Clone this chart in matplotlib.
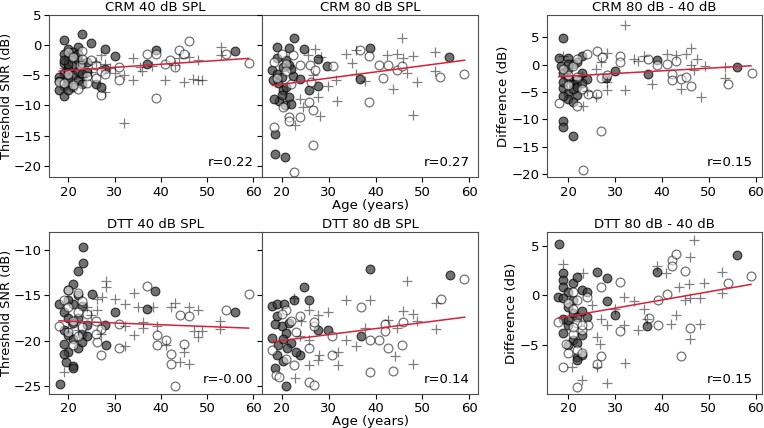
import numpy as np
import matplotlib
matplotlib.use("Agg")
import matplotlib.pyplot as plt

# -----------------------------
# Data (age in years, value in dB)
# filled = dark circles, open = open circles, plus = crosses
# -----------------------------
CRM40_FILLED = [(19, 0.8), (23, 1.9), (25, 0.4), (22, -0.3), (20, -0.6), (19, -1.5), (21, -1.2),
                (20, -2.2), (19, -3), (21, -3.5), (22, -2.5), (23, -3), (20, -4), (19, -4.6),
                (18, -5.3), (21, -5), (22, -5.8), (20, -6.2), (19, -6.8), (18, -7.4), (21, -7),
                (19, -8.5), (20, -5.5), (22, -4.3), (24, -4.5), (23, -6.5), (26, -6.4), (27, -7),
                (28, -3.9), (28, -0.7), (30, -1.8), (37, -3.2), (39, -0.8), (56, -0.9), (20, -3.2),
                (21, -1.8), (19, -2.5), (22, -1.5), (24, -2.8), (20, -7.5), (18, -6.0), (23, -4.8)]
CRM40_OPEN = [(46, 0.7), (44, -0.8), (37, -1.5), (39, -1.4), (45, -1.4), (31, -3.6), (31, -5.7),
              (39, -8.7), (41, -3.2), (42, -2.4), (43, -3.6), (54, -1.4), (59, -2.9), (27, -8.2),
              (26, -5.4), (24, -6.3), (22, -7.2), (22.5, -3.3), (18, -6.1), (20, -1.2), (21, -2.0),
              (19, -6.3), (20, -4.8), (23, -1.0), (25, -2.5), (26, -3.3), (27, -4.3), (28, -4.8),
              (21, -6.6), (24, -5.2), (23, -2.3)]
CRM40_PLUS = [(27, -1.7), (26, -2.8), (28, -3.1), (34, -2.2), (35.5, -3.6), (36, -4.3), (34, -5.8),
              (32, -5.0), (32, -12.9), (41, -5.7), (43, -3.3), (44, -2.2), (45, -6.1), (46, -1.9),
              (47, -5.6), (48, -5.7), (49, -5.8), (48, -2.5), (53, -0.3), (53, -1.7), (28, -7.8),
              (25, -4.4), (23, -5.3), (30, -4.6), (29, -3.8), (38, -3.4), (19, -3.8), (22, -2.6)]

CRM80_FILLED = [(22.7, 1.1), (19, -0.3), (21.6, -0.4), (24.7, -0.6), (27.7, -2.3), (29.7, -3.4),
                (38.8, -0.4), (36.6, -5.6), (27.7, -6.8), (25.8, -7.5), (55.7, -1.9), (18.6, -14.8),
                (18.6, -18), (20.7, -18.6), (18, -4.2), (19, -4.8), (20.3, -3.6), (21.6, -3.3),
                (19.2, -6.3), (20.3, -7.5), (21.6, -8.6), (19.5, -9.2), (18.4, -8.9), (20.6, -10),
                (22, -9.7), (21, -6.9), (22.4, -5.2), (23.8, -5.6), (18.2, -5.8), (20, -5.3),
                (19, -2.2), (21, -2.5), (22, -3.9), (20, -8.2)]
CRM80_OPEN = [(18.4, -2.8), (20, -1.4), (21, -3.1), (22.4, -1.7), (23.8, -3.3), (26, -3.3), (27, -4.2),
              (25.8, -9.4), (26.6, -10.8), (23.8, -11.9), (21.6, -11.9), (21.6, -12.6), (18.3, -13.5),
              (26.6, -16.6), (22.7, -21.1), (36.6, -0.8), (38.6, -1.8), (38.6, -9.4), (40.7, -3.3),
              (41.6, -5.4), (42.6, -3.3), (44.5, -4.2), (45.6, -3.5), (53.8, -5.3), (58.8, -4.8),
              (30.9, -3.4), (26.3, -6.1), (20.2, -10.3), (19, -5.5), (21, -4.3), (22, -6.5)]
CRM80_PLUS = [(27, -0.6), (25.6, -1.7), (28.4, -1.9), (26.6, -5), (29.9, -6.7), (31.6, -5.8),
              (31.8, -9.3), (23.8, -9), (24.5, -10.3), (27.7, -8.6), (33.8, -1.5), (34.9, -2.9),
              (35.9, -0.8), (35.9, -4.8), (37.7, -5.9), (42.4, -1.7), (43.8, -7.2), (44.5, -1.4),
              (45.7, 1.1), (45.8, -2.2), (46.6, -4.7), (47.9, -1.8), (47.9, -11.6), (48.8, -6.1),
              (52.7, -1.2), (52.7, -4.3), (22.9, -13.3), (28.1, -11.7)]

CRMDIFF_FILLED = [(19, 4.8), (19, -10.3), (19, -11.4), (21, -13.1), (56, -0.5), (37, -1.7), (39, 0.8),
                  (30, -1.1), (28, -2.4), (18, 1.2), (18.5, -0.2), (19, -1.5), (20, -2.5), (21, -3.5),
                  (19, -4.3), (20, -5.2), (22, -5.5), (20, -6.3), (19, -5.8), (21, -6.8), (22, -2.8),
                  (23, -1.5), (22, 0.5), (20, 1.3), (21, 0.2), (23, 1.5), (24, -2.7), (20, -0.8),
                  (19, -3.2), (21, -4.5), (22, -4), (23, -3.3), (20, 0.2)]
CRMDIFF_OPEN = [(18, -7), (22, -7.6), (27.1, -12.2), (23.1, -19.3), (26.2, 2.5), (24, 1.9), (27.3, 1.4),
                (31.1, 1.6), (31.1, 0.5), (37, 1), (39, -0.1), (41.2, 0.2), (43.1, 0.7), (42.1, -1.7),
                (42.1, -2.8), (44.1, -2.7), (45.1, -2.3), (46.2, -3.9), (54.2, -3.5), (59.2, -1.6),
                (24.3, -5.3), (26.2, -5.3), (27.1, -2.4), (28.4, -1.9), (20, -1.8), (21, -0.3),
                (22, -2.2), (20, -3.8), (19, -0.8), (23, -4.5), (22, 1)]
CRMDIFF_PLUS = [(32.1, 7.2), (32.1, -4.7), (28.4, -4.7), (25.9, -6), (23.1, -7.6), (28.4, 2.2),
                (28.4, -3.2), (34, 1.0), (35, 0.6), (36.1, 1.6), (37.9, -3.5), (41.1, 2.0), (43.1, 1.8),
                (45.1, 2.0), (46.2, 3.0), (46.2, 0.0), (46.9, -0.9), (44.1, -4.4), (47.6, 1.0),
                (49.1, -0.3), (48.4, -6), (53.4, -0.5), (53.4, -2.4), (19, 1.5), (23, -2), (24, -4.8),
                (21, -2.8), (26, -0.8), (27, 0.5)]

DTT40_FILLED = [(18.1, -24.7), (23.1, -9.7), (23.1, -11.5), (22.2, -12.3), (21.1, -13.8), (25.2, -14.9),
                (38.8, -14.5), (37.1, -16.5), (30.2, -16.8), (56, -16.8), (28.2, -20.4), (18, -15.9),
                (19, -16.8), (20, -17.5), (19, -18.8), (20, -19.3), (21, -19.8), (19, -20.3), (20, -21.2),
                (19.5, -22.3), (21, -22.8), (21, -23), (22, -20.8), (23, -19.2), (22, -17.5), (23, -16.2),
                (24, -18.3), (24, -19.5), (21, -16), (20, -15.5), (22, -15), (28, -18.3), (20, -14.4),
                (19, -21.4), (23, -20.1), (21, -18)]
DTT40_OPEN = [(20, -14.4), (22.2, -14.8), (37.1, -14), (59, -14.9), (54, -16.6), (44.2, -17.2),
              (46.2, -17.3), (31, -18.1), (39.2, -19.4), (39.2, -20.4), (41.2, -19.9), (42.2, -21.4),
              (42.2, -22.5), (45, -20.3), (43, -25), (31, -20.8), (27.1, -21.6), (26.1, -20.1),
              (27.1, -18.7), (18, -18.4), (19, -15.5), (20, -16.3), (21, -17.8), (22, -16.8),
              (23, -18.5), (24, -17), (20, -19), (21, -20.4), (22, -19.5), (23, -15.6), (26, -17.8),
              (26, -19.2)]
DTT40_PLUS = [(19, -23.4), (28.2, -13.4), (28.2, -14.1), (30.2, -15.4), (32.2, -15.9), (34.2, -14.8),
              (35.1, -16.3), (26.1, -15.4), (27.2, -15.2), (26.3, -16.6), (36.2, -17.9), (36.2, -18.6),
              (34.2, -19.3), (32.2, -18.4), (32.2, -20.6), (39.2, -18.4), (38.3, -16.3), (41.2, -20.5),
              (42.2, -16.3), (43.1, -15.8), (44.1, -22.3), (45, -21.2), (46.2, -22.5), (46.2, -16.3),
              (48.1, -16.6), (47.1, -18.9), (48.1, -19.6), (49, -18.9), (52.9, -17.8), (52.9, -18.7),
              (20, -18.6), (22, -18.8), (24, -16.3), (25, -17.2), (27, -19.2)]

DTT80_FILLED = [(38.8, -12.1), (55.8, -12.8), (24.7, -14.1), (25.8, -15.5), (22.7, -15.5), (18, -16.2),
                (19, -16.0), (20.5, -16.0), (29.9, -18.8), (27.7, -18.8), (36.8, -19.5), (18, -19.7),
                (20.8, -24.9), (23.8, -21.5), (18.6, -23), (19, -17.3), (20, -18.4), (21, -19.1),
                (21.6, -18.0), (19.2, -20.5), (20.2, -19.8), (22, -20.2), (19, -21.5), (20.2, -22.2),
                (21.2, -20.8), (23, -21.2), (18.5, -18.2)]
DTT80_OPEN = [(58.9, -13.2), (53.9, -15.4), (36.9, -16.3), (45.8, -17.9), (42, -18.2), (42, -18.9),
              (38.8, -19.9), (40.8, -19.9), (42.7, -20.8), (45.7, -20.4), (43.8, -23.3), (38.8, -23.4),
              (30.8, -19.5), (30.8, -21.6), (25.8, -24.5), (26.9, -24.8), (26.9, -18.4), (26.9, -17.9),
              (25.9, -20.8), (23.8, -17.3), (21, -16.6), (18.8, -23.7), (22.7, -22.6), (18, -21),
              (20, -17.0), (22, -17.8), (23, -19.0), (21, -22.0), (19.5, -24.0)]
DTT80_PLUS = [(46.8, -13.4), (52.9, -15.8), (52.9, -18.7), (47.9, -17), (45.8, -16.7), (48.8, -17.8),
              (44.5, -18.6), (42.7, -17.7), (38.8, -15.5), (33.8, -15.5), (37.7, -18.6), (33.8, -19.9),
              (35.8, -20.6), (44.1, -21.7), (47.9, -22.5), (31.9, -21.2), (31.9, -22.6), (27.7, -22.1),
              (27.9, -21.5), (25.8, -22.6), (25.9, -16.6), (25.8, -19.9), (27.7, -17.2), (29.8, -16.8),
              (23.8, -19.5), (22.7, -15.3), (22.9, -24.1), (24, -17.8)]

DTTDIFF_FILLED = [(18.1, 5.2), (56.1, 4.1), (38.9, 2.4), (26.1, 2.4), (28.2, 1.7), (28.2, -0.6),
                  (30.1, -2), (36.9, -3.1), (17.9, -0.2), (19, 2.2), (19, 1.5), (19, 0.8), (20, 0.3),
                  (19, -0.3), (21, 1.2), (22, 1.8), (20, -1.2), (21, -1.8), (22, -2.2), (19, -2.4),
                  (20, -3), (19, -3.8), (21, -4.5), (22, -4.8), (20, -5), (22, -6.2), (23, -6),
                  (22, -6.5), (23, -4), (24, -2.2), (23, 0.5), (24, 0.3), (21, -0.5), (20, -2.5),
                  (23, -1.6)]
DTTDIFF_OPEN = [(19, -7.2), (22, -9.3), (27.1, -6.1), (26.1, -6.9), (27.1, 0.8), (31.1, 1.3),
                (31.1, -3.6), (37.3, -2.3), (39.2, -3), (39.2, -0.5), (41.2, 0.1), (42.1, 3.6),
                (42.1, 3), (43.1, 4.2), (45, 2.5), (46.1, -3.3), (44.1, -6.1), (54.1, 1.2), (59.1, 1.9),
                (17.9, -2.7), (21.1, -3.9), (19.6, -4.9), (24.3, -3), (20, -0.8), (21, -1.4),
                (22, -2.8), (23, -3.5), (20, -5.8), (22, -5.5), (23, -5.8), (21, 0.3), (24, -0.2),
                (22, -0.5), (23, -3.0), (21, -3.2)]
DTTDIFF_PLUS = [(46.9, 5.6), (46.1, 3.9), (40.9, 2.2), (38.9, 3), (43.6, 0.8), (45.7, 1.1), (48.9, 1.2),
                (52.9, 2.3), (52.9, 0.2), (45, -0.5), (46.1, -0.3), (48.2, -0.3), (48.2, -2.9),
                (46.1, -4.4), (42, -2.9), (43, -2), (36.1, -1.4), (36.9, -2.4), (35, -3.5), (34.1, -0.6),
                (31.9, -0.2), (31.9, -3), (32.1, -6.8), (30, -1.4), (28.2, -8.9), (23, -8.6),
                (20.9, -7.2), (26.1, -7.2), (26.1, -4.2), (26.9, -4.9), (27.1, -2.4), (28.2, -3),
                (19, 3.2), (23.1, 2.2), (25, -1)]

# regression line values at the first and last age
FIT_AGES = [18, 59]
FITS = {"crm40": (-4.3, -2.2), "crm80": (-6.7, -2.5), "crmdiff": (-2.2, -0.2),
        "dtt40": (-17.8, -18.6), "dtt80": (-20.1, -17.4), "dttdiff": (-2.3, 1.1)}
R_VALUES = {"crm40": "0.22", "crm80": "0.27", "crmdiff": "0.15",
            "dtt40": "-0.00", "dtt80": "0.14", "dttdiff": "0.15"}
TITLES = {"crm40": "CRM 40 dB SPL", "crm80": "CRM 80 dB SPL", "crmdiff": "CRM 80 dB - 40 dB",
          "dtt40": "DTT 40 dB SPL", "dtt80": "DTT 80 dB SPL", "dttdiff": "DTT 80 dB - 40 dB"}

plt.rcParams["font.size"] = 9.5
plt.rcParams["xtick.labelsize"] = 9.5
plt.rcParams["ytick.labelsize"] = 9.5
plt.rcParams["axes.edgecolor"] = "0.3"
plt.rcParams["xtick.major.pad"] = 2.5
plt.rcParams["ytick.major.pad"] = 2.0


def draw_panel(ax, key, filled, opened, plus):
    f = np.array(filled)
    o = np.array(opened)
    p = np.array(plus)
    ax.scatter(f[:, 0], f[:, 1], s=40, facecolor="#3a3a3a", edgecolor="k", alpha=0.72, lw=0.8)
    ax.scatter(o[:, 0], o[:, 1], s=40, facecolor="white", edgecolor="k", alpha=0.55, lw=0.9)
    ax.scatter(p[:, 0], p[:, 1], s=55, marker="+", color="k", alpha=0.5, lw=0.9)
    ax.plot(FIT_AGES, FITS[key], color="#d8203a", lw=1.1)
    ax.set_title(TITLES[key], fontsize=9.5, pad=3)
    ax.text(0.96, 0.05, "r=" + R_VALUES[key], transform=ax.transAxes, ha="right", va="bottom")
    ax.set_xticks([20, 30, 40, 50, 60])


fig = plt.figure(figsize=(7.64, 4.28), dpi=100)

ax1 = fig.add_axes([0.064, 0.586, 0.279, 0.379])
ax2 = fig.add_axes([0.343, 0.586, 0.283, 0.379], sharey=ax1)
ax3 = fig.add_axes([0.716, 0.586, 0.281, 0.379])
ax4 = fig.add_axes([0.064, 0.080, 0.279, 0.377])
ax5 = fig.add_axes([0.343, 0.080, 0.283, 0.377], sharey=ax4)
ax6 = fig.add_axes([0.716, 0.080, 0.281, 0.377])

draw_panel(ax1, "crm40", CRM40_FILLED, CRM40_OPEN, CRM40_PLUS)
draw_panel(ax2, "crm80", CRM80_FILLED, CRM80_OPEN, CRM80_PLUS)
draw_panel(ax3, "crmdiff", CRMDIFF_FILLED, CRMDIFF_OPEN, CRMDIFF_PLUS)
draw_panel(ax4, "dtt40", DTT40_FILLED, DTT40_OPEN, DTT40_PLUS)
draw_panel(ax5, "dtt80", DTT80_FILLED, DTT80_OPEN, DTT80_PLUS)
draw_panel(ax6, "dttdiff", DTTDIFF_FILLED, DTTDIFF_OPEN, DTTDIFF_PLUS)

for ax in (ax1, ax2, ax4, ax5):
    ax.set_xlim(15.8, 61.9)
for ax in (ax3, ax6):
    ax.set_xlim(15.5, 61.3)

ax1.set_ylim(-21.9, 5)
ax1.set_yticks([5, 0, -5, -10, -15, -20])
ax3.set_ylim(-20.6, 9.1)
ax3.set_yticks([5, 0, -5, -10, -15, -20])
ax4.set_ylim(-25.8, -8.1)
ax4.set_yticks([-10, -15, -20, -25])
ax6.set_ylim(-9.95, 6.35)
ax6.set_yticks([5, 0, -5])

ax2.tick_params(labelleft=False)
ax5.tick_params(labelleft=False)

ax1.set_ylabel("Threshold SNR (dB)", labelpad=0, fontsize=9.3)
ax4.set_ylabel("Threshold SNR (dB)", labelpad=0, fontsize=9.3)
ax3.set_ylabel("Difference (dB)", labelpad=1)
ax6.set_ylabel("Difference (dB)", labelpad=1)
ax2.set_xlabel("Age (years)", labelpad=0)
ax5.set_xlabel("Age (years)", labelpad=0)

fig.savefig("out.png", dpi=100)
